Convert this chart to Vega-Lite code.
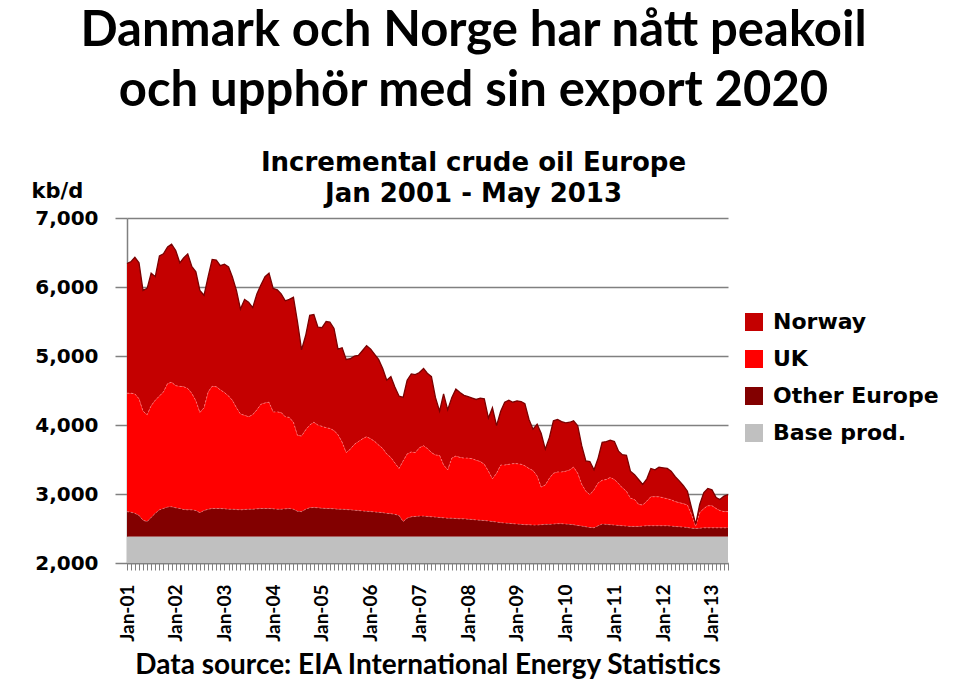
{
  "$schema": "https://vega.github.io/schema/vega-lite/v6.json",
  "width": 601,
  "height": 345,
  "autosize": {"type": "none"},
  "padding": {"left": 127, "top": 218, "right": 232, "bottom": 127},
  "background": "white",
  "title": {
    "text": ["Danmark och Norge har nått peakoil", "och upphör med sin export 2020"],
    "subtitle": ["Incremental crude oil Europe", "Jan 2001 - May 2013"],
    "anchor": "middle",
    "frame": "group",
    "dx": 46,
    "dy": 41,
    "offset": 14,
    "font": "Lato",
    "fontSize": 49,
    "fontWeight": "bold",
    "lineHeight": 60,
    "color": "black",
    "subtitleFont": "DejaVu Sans",
    "subtitleFontSize": 26,
    "subtitleFontWeight": "bold",
    "subtitleLineHeight": 31,
    "subtitleColor": "black",
    "subtitlePadding": 34
  },
  "data": {
    "values": [
      {"month": "2001-01-01", "norway_top": 6340, "uk_top": 4460, "other_top": 2745, "base_top": 2380},
      {"month": "2001-02-01", "norway_top": 6370, "uk_top": 4460, "other_top": 2735, "base_top": 2380},
      {"month": "2001-03-01", "norway_top": 6430, "uk_top": 4450, "other_top": 2720, "base_top": 2380},
      {"month": "2001-04-01", "norway_top": 6350, "uk_top": 4380, "other_top": 2690, "base_top": 2380},
      {"month": "2001-05-01", "norway_top": 5950, "uk_top": 4200, "other_top": 2620, "base_top": 2380},
      {"month": "2001-06-01", "norway_top": 5980, "uk_top": 4150, "other_top": 2600, "base_top": 2380},
      {"month": "2001-07-01", "norway_top": 6200, "uk_top": 4280, "other_top": 2660, "base_top": 2380},
      {"month": "2001-08-01", "norway_top": 6150, "uk_top": 4360, "other_top": 2720, "base_top": 2380},
      {"month": "2001-09-01", "norway_top": 6450, "uk_top": 4420, "other_top": 2770, "base_top": 2380},
      {"month": "2001-10-01", "norway_top": 6480, "uk_top": 4480, "other_top": 2790, "base_top": 2380},
      {"month": "2001-11-01", "norway_top": 6580, "uk_top": 4600, "other_top": 2810, "base_top": 2380},
      {"month": "2001-12-01", "norway_top": 6620, "uk_top": 4620, "other_top": 2815, "base_top": 2380},
      {"month": "2002-01-01", "norway_top": 6530, "uk_top": 4570, "other_top": 2800, "base_top": 2380},
      {"month": "2002-02-01", "norway_top": 6350, "uk_top": 4560, "other_top": 2790, "base_top": 2380},
      {"month": "2002-03-01", "norway_top": 6420, "uk_top": 4555, "other_top": 2775, "base_top": 2380},
      {"month": "2002-04-01", "norway_top": 6480, "uk_top": 4530, "other_top": 2770, "base_top": 2380},
      {"month": "2002-05-01", "norway_top": 6300, "uk_top": 4460, "other_top": 2770, "base_top": 2380},
      {"month": "2002-06-01", "norway_top": 6220, "uk_top": 4350, "other_top": 2760, "base_top": 2380},
      {"month": "2002-07-01", "norway_top": 5950, "uk_top": 4180, "other_top": 2730, "base_top": 2380},
      {"month": "2002-08-01", "norway_top": 5880, "uk_top": 4250, "other_top": 2760, "base_top": 2380},
      {"month": "2002-09-01", "norway_top": 6150, "uk_top": 4480, "other_top": 2780, "base_top": 2380},
      {"month": "2002-10-01", "norway_top": 6400, "uk_top": 4560, "other_top": 2790, "base_top": 2380},
      {"month": "2002-11-01", "norway_top": 6390, "uk_top": 4555, "other_top": 2790, "base_top": 2380},
      {"month": "2002-12-01", "norway_top": 6310, "uk_top": 4510, "other_top": 2790, "base_top": 2380},
      {"month": "2003-01-01", "norway_top": 6330, "uk_top": 4470, "other_top": 2785, "base_top": 2380},
      {"month": "2003-02-01", "norway_top": 6290, "uk_top": 4420, "other_top": 2780, "base_top": 2380},
      {"month": "2003-03-01", "norway_top": 6150, "uk_top": 4360, "other_top": 2780, "base_top": 2380},
      {"month": "2003-04-01", "norway_top": 5950, "uk_top": 4250, "other_top": 2775, "base_top": 2380},
      {"month": "2003-05-01", "norway_top": 5680, "uk_top": 4160, "other_top": 2770, "base_top": 2380},
      {"month": "2003-06-01", "norway_top": 5820, "uk_top": 4140, "other_top": 2775, "base_top": 2380},
      {"month": "2003-07-01", "norway_top": 5780, "uk_top": 4120, "other_top": 2780, "base_top": 2380},
      {"month": "2003-08-01", "norway_top": 5700, "uk_top": 4150, "other_top": 2780, "base_top": 2380},
      {"month": "2003-09-01", "norway_top": 5900, "uk_top": 4220, "other_top": 2785, "base_top": 2380},
      {"month": "2003-10-01", "norway_top": 6030, "uk_top": 4300, "other_top": 2790, "base_top": 2380},
      {"month": "2003-11-01", "norway_top": 6150, "uk_top": 4320, "other_top": 2790, "base_top": 2380},
      {"month": "2003-12-01", "norway_top": 6200, "uk_top": 4330, "other_top": 2790, "base_top": 2380},
      {"month": "2004-01-01", "norway_top": 5980, "uk_top": 4190, "other_top": 2785, "base_top": 2380},
      {"month": "2004-02-01", "norway_top": 5960, "uk_top": 4190, "other_top": 2780, "base_top": 2380},
      {"month": "2004-03-01", "norway_top": 5900, "uk_top": 4180, "other_top": 2780, "base_top": 2380},
      {"month": "2004-04-01", "norway_top": 5800, "uk_top": 4120, "other_top": 2785, "base_top": 2380},
      {"month": "2004-05-01", "norway_top": 5820, "uk_top": 4110, "other_top": 2790, "base_top": 2380},
      {"month": "2004-06-01", "norway_top": 5850, "uk_top": 4040, "other_top": 2780, "base_top": 2380},
      {"month": "2004-07-01", "norway_top": 5500, "uk_top": 3850, "other_top": 2750, "base_top": 2380},
      {"month": "2004-08-01", "norway_top": 5090, "uk_top": 3840, "other_top": 2745, "base_top": 2380},
      {"month": "2004-09-01", "norway_top": 5300, "uk_top": 3930, "other_top": 2780, "base_top": 2380},
      {"month": "2004-10-01", "norway_top": 5590, "uk_top": 4000, "other_top": 2800, "base_top": 2380},
      {"month": "2004-11-01", "norway_top": 5600, "uk_top": 4040, "other_top": 2805, "base_top": 2380},
      {"month": "2004-12-01", "norway_top": 5420, "uk_top": 4000, "other_top": 2800, "base_top": 2380},
      {"month": "2005-01-01", "norway_top": 5410, "uk_top": 3980, "other_top": 2795, "base_top": 2380},
      {"month": "2005-02-01", "norway_top": 5500, "uk_top": 3960, "other_top": 2790, "base_top": 2380},
      {"month": "2005-03-01", "norway_top": 5490, "uk_top": 3950, "other_top": 2790, "base_top": 2380},
      {"month": "2005-04-01", "norway_top": 5400, "uk_top": 3920, "other_top": 2785, "base_top": 2380},
      {"month": "2005-05-01", "norway_top": 5100, "uk_top": 3860, "other_top": 2780, "base_top": 2380},
      {"month": "2005-06-01", "norway_top": 5120, "uk_top": 3750, "other_top": 2780, "base_top": 2380},
      {"month": "2005-07-01", "norway_top": 4950, "uk_top": 3600, "other_top": 2775, "base_top": 2380},
      {"month": "2005-08-01", "norway_top": 4960, "uk_top": 3650, "other_top": 2770, "base_top": 2380},
      {"month": "2005-09-01", "norway_top": 5000, "uk_top": 3720, "other_top": 2765, "base_top": 2380},
      {"month": "2005-10-01", "norway_top": 5010, "uk_top": 3760, "other_top": 2760, "base_top": 2380},
      {"month": "2005-11-01", "norway_top": 5080, "uk_top": 3800, "other_top": 2755, "base_top": 2380},
      {"month": "2005-12-01", "norway_top": 5150, "uk_top": 3830, "other_top": 2750, "base_top": 2380},
      {"month": "2006-01-01", "norway_top": 5100, "uk_top": 3800, "other_top": 2745, "base_top": 2380},
      {"month": "2006-02-01", "norway_top": 5020, "uk_top": 3760, "other_top": 2740, "base_top": 2380},
      {"month": "2006-03-01", "norway_top": 4950, "uk_top": 3710, "other_top": 2735, "base_top": 2380},
      {"month": "2006-04-01", "norway_top": 4820, "uk_top": 3660, "other_top": 2730, "base_top": 2380},
      {"month": "2006-05-01", "norway_top": 4650, "uk_top": 3580, "other_top": 2720, "base_top": 2380},
      {"month": "2006-06-01", "norway_top": 4700, "uk_top": 3530, "other_top": 2715, "base_top": 2380},
      {"month": "2006-07-01", "norway_top": 4550, "uk_top": 3450, "other_top": 2705, "base_top": 2380},
      {"month": "2006-08-01", "norway_top": 4420, "uk_top": 3370, "other_top": 2690, "base_top": 2380},
      {"month": "2006-09-01", "norway_top": 4400, "uk_top": 3480, "other_top": 2600, "base_top": 2380},
      {"month": "2006-10-01", "norway_top": 4650, "uk_top": 3580, "other_top": 2650, "base_top": 2380},
      {"month": "2006-11-01", "norway_top": 4740, "uk_top": 3610, "other_top": 2670, "base_top": 2380},
      {"month": "2006-12-01", "norway_top": 4730, "uk_top": 3600, "other_top": 2675, "base_top": 2380},
      {"month": "2007-01-01", "norway_top": 4760, "uk_top": 3670, "other_top": 2680, "base_top": 2380},
      {"month": "2007-02-01", "norway_top": 4820, "uk_top": 3700, "other_top": 2680, "base_top": 2380},
      {"month": "2007-03-01", "norway_top": 4750, "uk_top": 3660, "other_top": 2675, "base_top": 2380},
      {"month": "2007-04-01", "norway_top": 4700, "uk_top": 3600, "other_top": 2670, "base_top": 2380},
      {"month": "2007-05-01", "norway_top": 4400, "uk_top": 3565, "other_top": 2665, "base_top": 2380},
      {"month": "2007-06-01", "norway_top": 4200, "uk_top": 3560, "other_top": 2660, "base_top": 2380},
      {"month": "2007-07-01", "norway_top": 4450, "uk_top": 3420, "other_top": 2655, "base_top": 2380},
      {"month": "2007-08-01", "norway_top": 4220, "uk_top": 3350, "other_top": 2650, "base_top": 2380},
      {"month": "2007-09-01", "norway_top": 4400, "uk_top": 3520, "other_top": 2650, "base_top": 2380},
      {"month": "2007-10-01", "norway_top": 4520, "uk_top": 3550, "other_top": 2645, "base_top": 2380},
      {"month": "2007-11-01", "norway_top": 4470, "uk_top": 3530, "other_top": 2640, "base_top": 2380},
      {"month": "2007-12-01", "norway_top": 4430, "uk_top": 3520, "other_top": 2640, "base_top": 2380},
      {"month": "2008-01-01", "norway_top": 4410, "uk_top": 3520, "other_top": 2635, "base_top": 2380},
      {"month": "2008-02-01", "norway_top": 4390, "uk_top": 3510, "other_top": 2630, "base_top": 2380},
      {"month": "2008-03-01", "norway_top": 4370, "uk_top": 3490, "other_top": 2625, "base_top": 2380},
      {"month": "2008-04-01", "norway_top": 4390, "uk_top": 3470, "other_top": 2620, "base_top": 2380},
      {"month": "2008-05-01", "norway_top": 4380, "uk_top": 3430, "other_top": 2615, "base_top": 2380},
      {"month": "2008-06-01", "norway_top": 4100, "uk_top": 3330, "other_top": 2610, "base_top": 2380},
      {"month": "2008-07-01", "norway_top": 4250, "uk_top": 3220, "other_top": 2600, "base_top": 2380},
      {"month": "2008-08-01", "norway_top": 3990, "uk_top": 3300, "other_top": 2595, "base_top": 2380},
      {"month": "2008-09-01", "norway_top": 4200, "uk_top": 3420, "other_top": 2585, "base_top": 2380},
      {"month": "2008-10-01", "norway_top": 4330, "uk_top": 3420, "other_top": 2580, "base_top": 2380},
      {"month": "2008-11-01", "norway_top": 4360, "uk_top": 3430, "other_top": 2575, "base_top": 2380},
      {"month": "2008-12-01", "norway_top": 4330, "uk_top": 3440, "other_top": 2570, "base_top": 2380},
      {"month": "2009-01-01", "norway_top": 4350, "uk_top": 3440, "other_top": 2565, "base_top": 2380},
      {"month": "2009-02-01", "norway_top": 4340, "uk_top": 3430, "other_top": 2560, "base_top": 2380},
      {"month": "2009-03-01", "norway_top": 4310, "uk_top": 3410, "other_top": 2555, "base_top": 2380},
      {"month": "2009-04-01", "norway_top": 4080, "uk_top": 3370, "other_top": 2555, "base_top": 2380},
      {"month": "2009-05-01", "norway_top": 3940, "uk_top": 3340, "other_top": 2550, "base_top": 2380},
      {"month": "2009-06-01", "norway_top": 4010, "uk_top": 3260, "other_top": 2550, "base_top": 2380},
      {"month": "2009-07-01", "norway_top": 3880, "uk_top": 3100, "other_top": 2555, "base_top": 2380},
      {"month": "2009-08-01", "norway_top": 3650, "uk_top": 3130, "other_top": 2560, "base_top": 2380},
      {"month": "2009-09-01", "norway_top": 3820, "uk_top": 3230, "other_top": 2560, "base_top": 2380},
      {"month": "2009-10-01", "norway_top": 4060, "uk_top": 3300, "other_top": 2565, "base_top": 2380},
      {"month": "2009-11-01", "norway_top": 4080, "uk_top": 3320, "other_top": 2570, "base_top": 2380},
      {"month": "2009-12-01", "norway_top": 4050, "uk_top": 3320, "other_top": 2570, "base_top": 2380},
      {"month": "2010-01-01", "norway_top": 4030, "uk_top": 3330, "other_top": 2565, "base_top": 2380},
      {"month": "2010-02-01", "norway_top": 4040, "uk_top": 3350, "other_top": 2560, "base_top": 2380},
      {"month": "2010-03-01", "norway_top": 4060, "uk_top": 3390, "other_top": 2555, "base_top": 2380},
      {"month": "2010-04-01", "norway_top": 3990, "uk_top": 3300, "other_top": 2545, "base_top": 2380},
      {"month": "2010-05-01", "norway_top": 3700, "uk_top": 3140, "other_top": 2535, "base_top": 2380},
      {"month": "2010-06-01", "norway_top": 3480, "uk_top": 3040, "other_top": 2525, "base_top": 2380},
      {"month": "2010-07-01", "norway_top": 3470, "uk_top": 2990, "other_top": 2515, "base_top": 2380},
      {"month": "2010-08-01", "norway_top": 3350, "uk_top": 3060, "other_top": 2510, "base_top": 2380},
      {"month": "2010-09-01", "norway_top": 3520, "uk_top": 3160, "other_top": 2540, "base_top": 2380},
      {"month": "2010-10-01", "norway_top": 3750, "uk_top": 3200, "other_top": 2565, "base_top": 2380},
      {"month": "2010-11-01", "norway_top": 3760, "uk_top": 3210, "other_top": 2560, "base_top": 2380},
      {"month": "2010-12-01", "norway_top": 3780, "uk_top": 3240, "other_top": 2555, "base_top": 2380},
      {"month": "2011-01-01", "norway_top": 3760, "uk_top": 3210, "other_top": 2550, "base_top": 2380},
      {"month": "2011-02-01", "norway_top": 3620, "uk_top": 3150, "other_top": 2545, "base_top": 2380},
      {"month": "2011-03-01", "norway_top": 3570, "uk_top": 3090, "other_top": 2540, "base_top": 2380},
      {"month": "2011-04-01", "norway_top": 3560, "uk_top": 3040, "other_top": 2535, "base_top": 2380},
      {"month": "2011-05-01", "norway_top": 3330, "uk_top": 2940, "other_top": 2530, "base_top": 2380},
      {"month": "2011-06-01", "norway_top": 3280, "uk_top": 2920, "other_top": 2530, "base_top": 2380},
      {"month": "2011-07-01", "norway_top": 3210, "uk_top": 2850, "other_top": 2530, "base_top": 2380},
      {"month": "2011-08-01", "norway_top": 3140, "uk_top": 2840, "other_top": 2535, "base_top": 2380},
      {"month": "2011-09-01", "norway_top": 3220, "uk_top": 2900, "other_top": 2540, "base_top": 2380},
      {"month": "2011-10-01", "norway_top": 3370, "uk_top": 2960, "other_top": 2540, "base_top": 2380},
      {"month": "2011-11-01", "norway_top": 3350, "uk_top": 2960, "other_top": 2540, "base_top": 2380},
      {"month": "2011-12-01", "norway_top": 3390, "uk_top": 2960, "other_top": 2540, "base_top": 2380},
      {"month": "2012-01-01", "norway_top": 3380, "uk_top": 2945, "other_top": 2540, "base_top": 2380},
      {"month": "2012-02-01", "norway_top": 3370, "uk_top": 2930, "other_top": 2540, "base_top": 2380},
      {"month": "2012-03-01", "norway_top": 3330, "uk_top": 2915, "other_top": 2535, "base_top": 2380},
      {"month": "2012-04-01", "norway_top": 3250, "uk_top": 2890, "other_top": 2530, "base_top": 2380},
      {"month": "2012-05-01", "norway_top": 3190, "uk_top": 2875, "other_top": 2525, "base_top": 2380},
      {"month": "2012-06-01", "norway_top": 3120, "uk_top": 2860, "other_top": 2520, "base_top": 2380},
      {"month": "2012-07-01", "norway_top": 3040, "uk_top": 2840, "other_top": 2515, "base_top": 2380},
      {"month": "2012-08-01", "norway_top": 2800, "uk_top": 2700, "other_top": 2505, "base_top": 2380},
      {"month": "2012-09-01", "norway_top": 2560, "uk_top": 2530, "other_top": 2500, "base_top": 2380},
      {"month": "2012-10-01", "norway_top": 2850, "uk_top": 2730, "other_top": 2505, "base_top": 2380},
      {"month": "2012-11-01", "norway_top": 3020, "uk_top": 2790, "other_top": 2510, "base_top": 2380},
      {"month": "2012-12-01", "norway_top": 3080, "uk_top": 2830, "other_top": 2510, "base_top": 2380},
      {"month": "2013-01-01", "norway_top": 3060, "uk_top": 2830, "other_top": 2510, "base_top": 2380},
      {"month": "2013-02-01", "norway_top": 2950, "uk_top": 2790, "other_top": 2510, "base_top": 2380},
      {"month": "2013-03-01", "norway_top": 2920, "uk_top": 2760, "other_top": 2510, "base_top": 2380},
      {"month": "2013-04-01", "norway_top": 2970, "uk_top": 2745, "other_top": 2510, "base_top": 2380},
      {"month": "2013-05-01", "norway_top": 2990, "uk_top": 2745, "other_top": 2510, "base_top": 2380}
    ]
  },
  "encoding": {
    "x": {
      "field": "month",
      "type": "temporal",
      "scale": {"type": "utc", "domain": [{"year": 2001, "month": 1, "date": 1, "utc": true}, {"year": 2013, "month": 5, "date": 1, "utc": true}]},
      "axis": {
        "title": "Data source: EIA International Energy Statistics",
        "titleFont": "Lato",
        "titleFontSize": 28,
        "titleFontWeight": "bold",
        "titleColor": "black",
        "titlePadding": 10,
        "tickCount": {"interval": "month", "step": 1},
        "labelExpr": "utcmonth(datum.value) == 0 ? utcFormat(datum.value, '%b-%y') : ''",
        "labelOverlap": false,
        "labelAngle": 270,
        "labelAlign": "right",
        "labelBaseline": "middle",
        "labelFont": "Lato",
        "labelFontSize": 19,
        "labelFontWeight": "bold",
        "labelColor": "black",
        "labelPadding": 14,
        "tickSize": 7,
        "tickColor": "#808080",
        "domainColor": "#808080",
        "domainWidth": 1.5,
        "grid": false
      }
    }
  },
  "layer": [
    {
      "mark": {"type": "area", "interpolate": "linear"},
      "encoding": {
        "y": {
          "field": "norway_top",
          "type": "quantitative",
          "title": "kb/d",
          "scale": {"domain": [2000, 7000], "nice": false, "zero": false},
          "axis": {
            "values": [2000, 2500, 3000, 3500, 4000, 4500, 5000, 5500, 6000, 6500, 7000],
            "labelExpr": "format(datum.value, ',.0f')",
            "grid": true,
            "gridColor": "#808080",
            "gridWidth": 1.5,
            "domainColor": "#808080",
            "domainWidth": 1.5,
            "tickColor": "#808080",
            "tickWidth": 1.5,
            "tickSize": 12,
            "labelFont": "DejaVu Sans",
            "labelFontSize": 20,
            "labelFontWeight": "bold",
            "labelColor": "black",
            "labelPadding": 17,
            "titleFont": "DejaVu Sans",
            "titleFontSize": 21,
            "titleFontWeight": "bold",
            "titleColor": "black",
            "titleAngle": 0,
            "titleAlign": "left",
            "titleBaseline": "alphabetic",
            "titleX": -96,
            "titleY": -21
          }
        },
        "y2": {"field": "uk_top"},
        "color": {
          "datum": "Norway",
          "type": "nominal",
          "scale": {"domain": ["Norway", "UK", "Other Europe", "Base prod."], "range": ["#C40000", "#FF0000", "#820000", "#C0C0C0"]},
          "legend": {
            "orient": "none",
            "legendX": 616,
            "legendY": 93,
            "title": null,
            "symbolType": "square",
            "symbolSize": 324,
            "symbolStrokeWidth": 0,
            "labelFont": "DejaVu Sans",
            "labelFontSize": 22,
            "labelFontWeight": "bold",
            "labelColor": "black",
            "labelOffset": 8,
            "labelLimit": 400,
            "rowPadding": 15
          }
        }
      }
    },
    {
      "mark": {"type": "area", "interpolate": "linear"},
      "encoding": {
        "y": {"field": "uk_top", "type": "quantitative", "title": "kb/d"},
        "y2": {"field": "other_top"},
        "color": {"datum": "UK", "type": "nominal"}
      }
    },
    {
      "mark": {"type": "area", "interpolate": "linear"},
      "encoding": {
        "y": {"field": "other_top", "type": "quantitative", "title": "kb/d"},
        "y2": {"field": "base_top"},
        "color": {"datum": "Other Europe", "type": "nominal"}
      }
    },
    {
      "mark": {"type": "area", "interpolate": "linear"},
      "encoding": {
        "y": {"field": "base_top", "type": "quantitative", "title": "kb/d"},
        "y2": {"datum": 2000},
        "color": {"datum": "Base prod.", "type": "nominal"}
      }
    },
    {
      "mark": {"type": "line", "interpolate": "linear", "color": "#FF8A8A", "strokeWidth": 1, "strokeDash": [2, 2], "opacity": 0.7},
      "encoding": {"y": {"field": "uk_top", "type": "quantitative", "title": "kb/d"}}
    },
    {
      "mark": {"type": "line", "interpolate": "linear", "color": "#FF8A8A", "strokeWidth": 1, "strokeDash": [2, 2], "opacity": 0.6},
      "encoding": {"y": {"field": "other_top", "type": "quantitative", "title": "kb/d"}}
    },
    {
      "mark": {"type": "line", "interpolate": "linear", "color": "#7A0000", "strokeWidth": 1.3},
      "encoding": {"y": {"field": "norway_top", "type": "quantitative", "title": "kb/d"}}
    }
  ],
  "config": {
    "view": {"stroke": null}
  }
}
